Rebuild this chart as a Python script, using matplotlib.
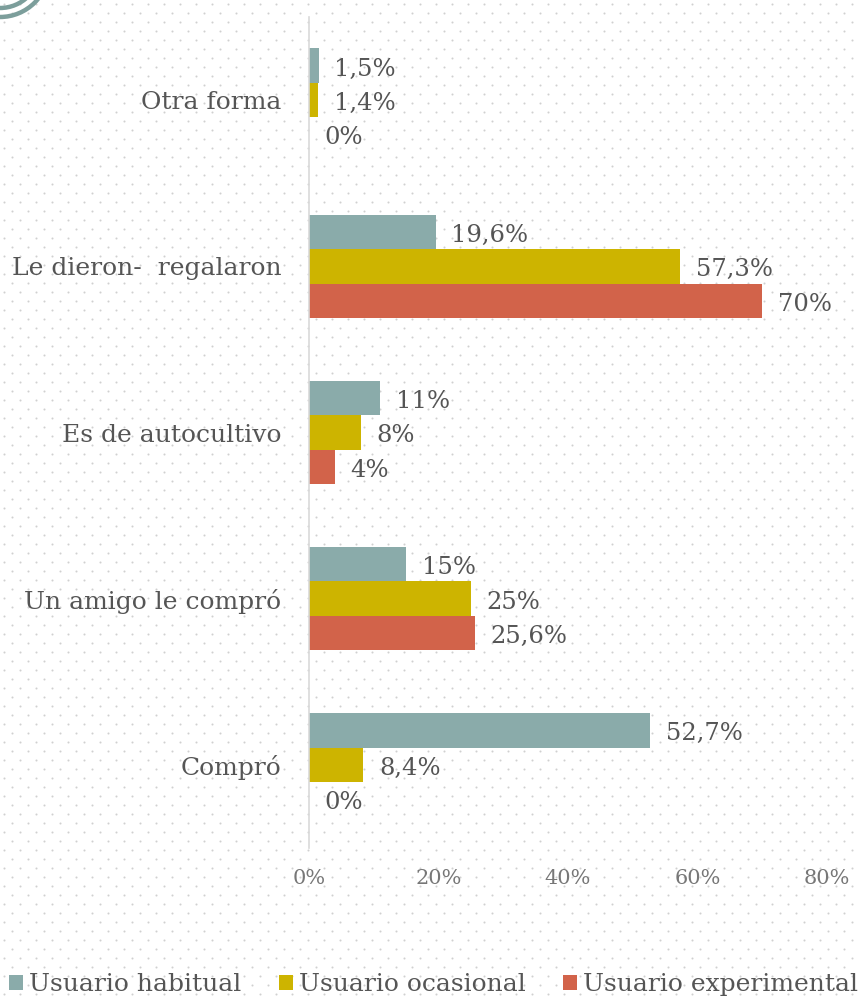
import numpy as np
import matplotlib
matplotlib.use("Agg")
import matplotlib.pyplot as plt
from matplotlib.patches import Circle

categories = ["Otra forma", "Le dieron-  regalaron", "Es de autocultivo",
              "Un amigo le compró", "Compró"]
series = ["Usuario habitual", "Usuario ocasional", "Usuario experimental"]
habitual = [1.5, 19.6, 11, 15, 52.7]
ocasional = [1.4, 57.3, 8, 25, 8.4]
experimental = [0, 70, 4, 25.6, 0]
habitual_lbl = ["1,5%", "19,6%", "11%", "15%", "52,7%"]
ocasional_lbl = ["1,4%", "57,3%", "8%", "25%", "8,4%"]
experimental_lbl = ["0%", "70%", "4%", "25,6%", "0%"]
xticks = [0, 20, 40, 60, 80]

colors = ["#8aabaa", "#cdb400", "#d2634a"]
txt = "#555555"
font = "DejaVu Serif"
plt.rcParams["font.family"] = font

W, H = 859, 999
fig = plt.figure(figsize=(W / 100, H / 100), dpi=100)
fig.patch.set_facecolor("white")

# dotted backdrop
bg = fig.add_axes([0, 0, 1, 1], zorder=-10)
bg.set_xlim(0, W)
bg.set_ylim(H, 0)
bg.axis("off")
pts = []
for r, yy in enumerate(np.arange(4, H, 9)):
    off = 0 if r % 2 == 0 else 8
    for xx in np.arange(4 + off, W, 16):
        pts.append((xx, yy))
pts = np.array(pts)
bg.scatter(pts[:, 0], pts[:, 1], s=2.2, color="#d0d0d0", linewidths=0)
for rad in (49, 40):
    bg.add_patch(Circle((0, -32), rad, fill=False, lw=3.2, ec="#7c9e9b"))

ax = fig.add_axes([309 / W, 1 - 848 / H, (827 - 309) / W, (848 - 17) / H])
ax.patch.set_alpha(0)
y = np.arange(len(categories))
bh = 0.207
vals = [habitual, ocasional, experimental]
lbls = [habitual_lbl, ocasional_lbl, experimental_lbl]
for i, (v, l, c, name) in enumerate(zip(vals, lbls, colors, series)):
    pos = y + (i - 1) * bh
    ax.barh(pos, v, height=bh, color=c, label=name, zorder=2)
    for p, val, s in zip(pos, v, l):
        ax.text(val + 2.4, p + 0.02, s, va="center", ha="left", fontsize=17.5,
                color=txt)

ax.set_xlim(0, 80)
ax.set_ylim(len(categories) - 0.5, -0.5)
ax.set_yticks(y)
ax.set_yticklabels(categories, fontsize=18, color=txt)
ax.set_xticks(xticks)
ax.set_xticklabels([f"{t}%" for t in xticks], fontsize=15, color="#777777")
ax.tick_params(axis="both", length=0)
ax.tick_params(axis="y", pad=20)
ax.tick_params(axis="x", pad=15)
for s in ["top", "right", "bottom"]:
    ax.spines[s].set_visible(False)
ax.spines["left"].set_color("#d9d9d9")
ax.spines["left"].set_linewidth(1.2)

handles, labels = ax.get_legend_handles_labels()
leg = fig.legend(handles, labels, loc="lower center", bbox_to_anchor=(0.505, -0.02),
                 ncol=3, frameon=False, fontsize=18, handlelength=0.55,
                 handleheight=0.55, handletextpad=0.25, columnspacing=1.5)
for t in leg.get_texts():
    t.set_color(txt)

fig.savefig("out.png", dpi=100)
